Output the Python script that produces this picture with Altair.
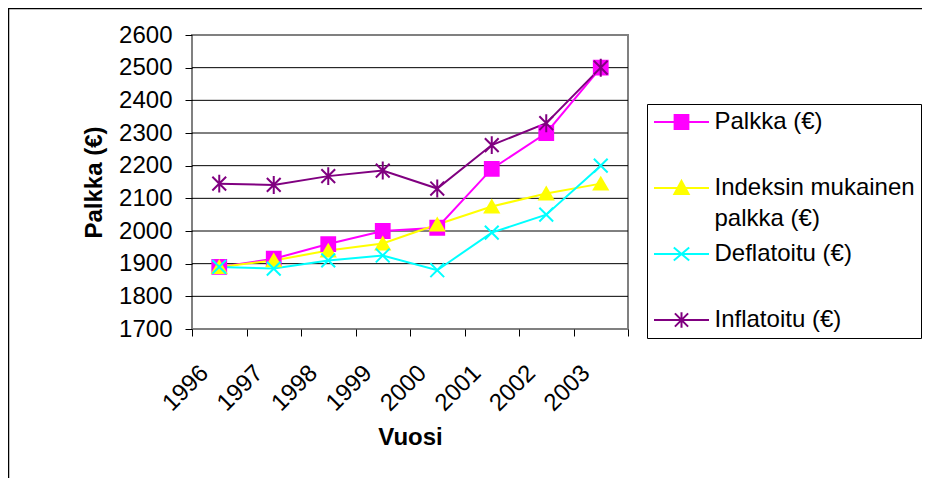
import altair as alt
import pandas as pd

years = ['1996', '1997', '1998', '1999', '2000', '2001', '2002', '2003']
palkka = [1890, 1915, 1960, 2000, 2010, 2190, 2300, 2500]
indeksi = [1890, 1910, 1940, 1962, 2020, 2075, 2115, 2145]
deflatoitu = [1890, 1885, 1910, 1925, 1880, 1995, 2050, 2200]
inflatoitu = [2145, 2141, 2168, 2185, 2130, 2263, 2330, 2500]

series_names = ['Palkka (€)', 'Indeksin mukainen palkka (€)', 'Deflatoitu (€)', 'Inflatoitu (€)']
legend_label_lines = [['Palkka (€)'], ['Indeksin mukainen', 'palkka (€)'], ['Deflatoitu (€)'], ['Inflatoitu (€)']]
colors = ['#FF00FF', '#FFFF00', '#00FFFF', '#800080']
marker_shapes = ['square', 'triangle-up',
                 'M-1,-1L1,1M-1,1L1,-1',
                 'M-1,-1L1,1M-1,1L1,-1M0,-1.3L0,1.3']
legend_shapes = ['M-2.62,0H2.62M-0.655,-0.655H0.655V0.655H-0.655Z',
                 'M-2.62,0H2.62M0,-0.68L0.68,0.576L-0.68,0.576Z',
                 'M-2.62,0H2.62M-0.733,-0.628L0.733,0.628M-0.733,0.628L0.733,-0.628',
                 'M-2.62,0H2.62M-0.628,-0.628L0.628,0.628M-0.628,0.628L0.628,-0.628M0,-0.733V0.733']
y_ticks = [1700, 1800, 1900, 2000, 2100, 2200, 2300, 2400, 2500, 2600]
grid_values = [1800, 1900, 2000, 2100, 2200, 2300, 2400, 2500]

rows = []
for name, vals in zip(series_names, [palkka, indeksi, deflatoitu, inflatoitu]):
    for yr, v in zip(years, vals):
        rows.append({'Vuosi': yr, 'Palkka': v, 'Sarja': name})
df = pd.DataFrame(rows)

FONT = 'Liberation Sans'
FS = 24

# label expression for multi-line legend labels
parts = []
for name, lines in zip(series_names, legend_label_lines):
    arr = '[' + ','.join("'" + l + "'" for l in lines) + ']'
    parts.append(f"datum.label == '{name}' ? {arr} : ")
label_expr = ''.join(parts) + 'datum.label'

x_enc = alt.X('Vuosi:O',
              scale=alt.Scale(type='band', paddingInner=0, paddingOuter=0),
              axis=alt.Axis(title='Vuosi', labelAngle=315, labelAlign='right', labelBaseline='middle',
                            labelFontSize=FS, labelFont=FONT, labelColor='black',
                            labelPadding=33, labelOffset=-15, labelOverlap=False,
                            tickBand='extent', ticks=True, tickSize=7, tickColor='black',
                            domain=False, grid=False,
                            titleFont=FONT, titleFontSize=FS, titleFontWeight='bold',
                            titleColor='black', titlePadding=10))

y_axis = alt.Axis(title='Palkka (€)', values=y_ticks, format='d', labelOverlap=False,
                  grid=False, domain=False,
                  tickSize=7, tickColor='black',
                  labelFontSize=FS, labelFont=FONT, labelColor='black', labelPadding=13,
                  titleFont=FONT, titleFontSize=FS, titleFontWeight='bold',
                  titleColor='black', titlePadding=12)
y_scale = alt.Scale(domain=[1700, 2600], nice=False, zero=False)


def y_of(field):
    return alt.Y(field, scale=y_scale, axis=y_axis, title='Palkka (€)')


frame = alt.Chart(alt.Data(values=[{'k': 1}])).mark_rect(
    filled=False, stroke='black', strokeWidth=1.5, clip=False
).encode(x=alt.value(-183.5), y=alt.value(-26.5), x2=alt.value(900), y2=alt.value(700))

grid = alt.Chart(pd.DataFrame({'v': grid_values})).mark_rule(
    color='black', strokeWidth=1
).encode(y=y_of('v:Q'))

base = alt.Chart(df)

lines = base.mark_line(strokeWidth=2).encode(
    x=x_enc, y=y_of('Palkka:Q'),
    color=alt.Color('Sarja:N', scale=alt.Scale(domain=series_names, range=colors), legend=None),
    order=alt.Order('Vuosi:O')
)

markers = base.mark_point(filled=True, strokeWidth=2, size=190, opacity=1).encode(
    x=x_enc, y=y_of('Palkka:Q'),
    fill=alt.Fill('Sarja:N', scale=alt.Scale(domain=series_names, range=colors), legend=None),
    stroke=alt.Stroke('Sarja:N', scale=alt.Scale(domain=series_names, range=colors), legend=None),
    shape=alt.Shape('Sarja:N', scale=alt.Scale(domain=series_names, range=marker_shapes), legend=None),
)

legend_layer = base.mark_point(filled=True, opacity=0).encode(
    x=x_enc, y=y_of('Palkka:Q'),
    fill=alt.Fill('Sarja:N', scale=alt.Scale(domain=series_names, range=colors),
                  legend=alt.Legend(title=None, labelExpr=label_expr)),
    stroke=alt.Stroke('Sarja:N', scale=alt.Scale(domain=series_names, range=colors),
                      legend=alt.Legend(title=None, labelExpr=label_expr)),
    shape=alt.Shape('Sarja:N', scale=alt.Scale(domain=series_names, range=legend_shapes),
                    legend=alt.Legend(title=None, labelExpr=label_expr)),
)

chart = alt.layer(frame, grid, lines, markers, legend_layer).resolve_scale(
    color='independent', fill='independent', stroke='independent', shape='independent'
).properties(
    width=436, height=294,
    padding={'left': 184, 'top': 27, 'right': 294, 'bottom': 149},
    autosize=alt.AutoSizeParams(type='none'),
    background='white'
).configure(
    style={'guide-label': {'lineHeight': 31}}
).configure_view(
    stroke='#808080', strokeWidth=2
).configure_legend(
    orient='none', legendX=455, legendY=69, padding=6,
    strokeColor='black', fillColor='white', strokeWidth=1,
    symbolSize=441, symbolStrokeWidth=2, symbolOpacity=1, symbolOffset=16.5,
    labelFont=FONT, labelFontSize=FS, labelColor='black', labelLimit=500,
    labelOffset=21, rowPadding=11, gridAlign='all'
)

chart.save('out.html', embed_options={'renderer': 'svg', 'actions': False})
